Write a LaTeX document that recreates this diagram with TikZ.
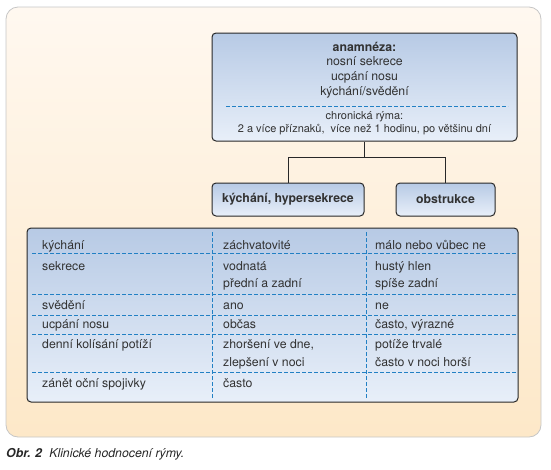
\documentclass[tikz,border=0pt]{standalone}
\usepackage{fontspec}
\setmainfont{TeX Gyre Heros}
\usetikzlibrary{positioning,calc}
\definecolor{sheettop}{RGB}{255,248,240}
\definecolor{sheetbot}{RGB}{253,232,200}
\definecolor{cardtop}{RGB}{183,202,229}
\definecolor{cardbot}{RGB}{232,239,249}
\definecolor{cardline}{RGB}{40,40,40}
\definecolor{sepblue}{RGB}{34,128,196}
\definecolor{ink}{RGB}{50,50,50}
\tikzset{
    sheet/.style={
        draw=gray!45,line width=.8pt,rounded corners=12pt,
        top color=sheettop,bottom color=sheetbot
    },
    card/.style={
        draw=cardline,line width=1pt,rounded corners=4pt,
        top color=cardtop,bottom color=cardbot,
        minimum width=#1,minimum height=33pt,inner sep=0pt,
        align=center,text=ink
    },
    card/.default=100pt,
    sep/.style={
        draw=sepblue,line width=.8pt,dash pattern=on 3.5pt off 2.5pt
    },
    wire/.style={
        draw=cardline,line width=.9pt
    },
    cell/.style={
        anchor=west,inner sep=0pt,text height=10pt,text depth=2pt,text=ink
    }
}

\begin{document}
\begin{tikzpicture}[x=1pt,y=-1pt,font=\fontsize{12.3}{14.6}\selectfont]

\useasboundingbox (0,0) rectangle (551,469);
\path[sheet] (6,7) rectangle (541,437);

% history box
\node[card=305pt,minimum height=108pt] (anam) at (364.5,87) {};
\node[align=center,text=ink,inner sep=0pt] (hist) at (364.5,70)
{\textbf{anamnéza:}\\nosní sekrece\\ucpání nosu\\kýchání/svědění};
\node[align=center,text=ink,inner sep=0pt,
font=\fontsize{11}{13}\selectfont] (chron) at (364.5,123.5)
{chronická rýma:\\2 a více příznaků,\ \ více než 1 hodinu, po většinu dní};
\draw[sep] (226,106) -- (508,106);

% two branches
\node[card=152pt] (sneeze) at (288,199.5) {\textbf{kýchání, hypersekrece}};
\node[card=99pt,right=31pt of sneeze] (obstr) {\textbf{obstrukce}};

\coordinate (split) at ($(anam.south)+(0,16)$);
\draw[wire] (anam.south) -- (split);
\draw[wire] (split) -| (sneeze.north);
\draw[wire] (split) -| (obstr.north);

% comparison table
\node[card=491pt,minimum height=174pt] (tab) at (272.5,315) {};
\draw[sep] (212,232) -- (212,398);
\draw[sep] (366,232) -- (366,398);
\foreach \y in {253,294,315,334,372}
    \draw[sep] (32,\y) -- (516,\y);

\node[cell] (r1a) at (42,245) {kýchání};
\node[cell] (r2a) at (42,266) {sekrece};
\node[cell] (r3a) at (42,305) {svědění};
\node[cell] (r4a) at (42,324) {ucpání nosu};
\node[cell] (r5a) at (42,344) {denní kolísání potíží};
\node[cell] (r6a) at (42,383) {zánět oční spojivky};

\node[cell] (r1b) at (223,245) {záchvatovité};
\node[cell] (r2b) at (223,266) {vodnatá};
\node[cell] (r2bb) at (223,283) {přední a zadní};
\node[cell] (r3b) at (223,305) {ano};
\node[cell] (r4b) at (223,324) {občas};
\node[cell] (r5b) at (223,344) {zhoršení ve dne,};
\node[cell] (r5bb) at (223,362) {zlepšení v noci};
\node[cell] (r6b) at (223,383) {často};

\node[cell] (r1c) at (375,245) {málo nebo vůbec ne};
\node[cell] (r2c) at (375,266) {hustý hlen};
\node[cell] (r2cc) at (375,283) {spíše zadní};
\node[cell] (r3c) at (375,305) {ne};
\node[cell] (r4c) at (375,324) {často, výrazné};
\node[cell] (r5c) at (375,344) {potíže trvalé};
\node[cell] (r5cc) at (375,362) {často v noci horší};

% caption
\node[anchor=base west,inner sep=0pt,text=black!85] (caption) at (6,457)
{\textbf{\itshape Obr. 2}\ \ \itshape Klinické hodnocení rýmy.};

\end{tikzpicture}
\end{document}
